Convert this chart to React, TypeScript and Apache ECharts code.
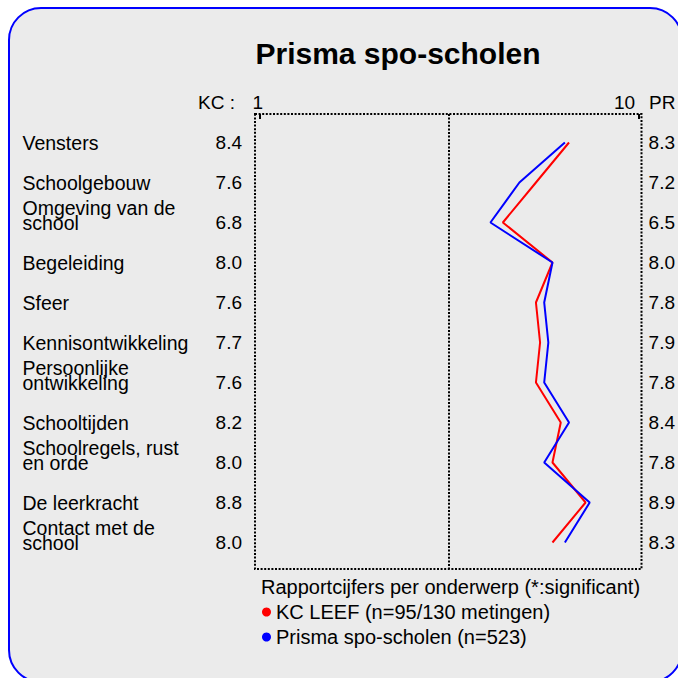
import React, { useEffect, useRef } from "react";
import * as echarts from "echarts";

const categories = [
  "Vensters",
  "Schoolgebouw",
  "Omgeving van de\nschool",
  "Begeleiding",
  "Sfeer",
  "Kennisontwikkeling",
  "Persoonlijke\nontwikkeling",
  "Schooltijden",
  "Schoolregels, rust\nen orde",
  "De leerkracht",
  "Contact met de\nschool",
];
const kcValues = [8.4, 7.6, 6.8, 8.0, 7.6, 7.7, 7.6, 8.2, 8.0, 8.8, 8.0];
const prValues = [8.3, 7.2, 6.5, 8.0, 7.8, 7.9, 7.8, 8.4, 7.8, 8.9, 8.3];
const scaleMin = 1;
const scaleMax = 10;
const titleText = "Prisma spo-scholen";
const kcName = "KC LEEF (n=95/130 metingen)";
const prName = "Prisma spo-scholen (n=523)";
const legendTitle = "Rapportcijfers per onderwerp (*:significant)";

const FONT = "'Liberation Sans', Arial, sans-serif";

export default function App() {
  const ref = useRef<HTMLDivElement>(null);
  useEffect(() => {
    if (!ref.current) return;
    const chart = echarts.init(ref.current, null, { renderer: "svg" });
    const dotted = { stroke: "#000", lineWidth: 2, lineDash: [2, 1.6], fill: null };
    const yBase = {
      type: "category",
      data: categories,
      inverse: true,
      boundaryGap: false,
      axisLine: { show: false },
      axisTick: { show: false },
      splitLine: { show: false },
    };
    chart.setOption({
      animation: false,
      textStyle: { fontFamily: FONT },
      title: {
        text: titleText,
        left: 393,
        top: 33,
        textAlign: "center",
        textStyle: { fontFamily: FONT, fontSize: 30, fontWeight: "bold", color: "#000", lineHeight: 30 },
      },
      graphic: [
        {
          type: "rect",
          z: -10,
          silent: true,
          shape: { x: 9, y: 8, width: 673, height: 674, r: 32 },
          style: { fill: "#ebebeb", stroke: "#0000ff", lineWidth: 2 },
        },
        { type: "rect", z: 1, silent: true, shape: { x: 255, y: 114, width: 386.5, height: 455 }, style: dotted },
        { type: "line", z: 1, silent: true, shape: { x1: 449, y1: 114, x2: 449, y2: 569 }, style: dotted },
        { type: "line", z: 1, silent: true, shape: { x1: 260, y1: 114, x2: 260, y2: 119 }, style: { stroke: "#000", lineWidth: 2 } },
        { type: "line", z: 1, silent: true, shape: { x1: 639, y1: 114, x2: 639, y2: 119 }, style: { stroke: "#000", lineWidth: 2 } },
        {
          type: "text",
          x: 235,
          y: 102,
          style: { text: "KC :", font: `19px ${FONT}`, fill: "#000", textAlign: "right", textVerticalAlign: "middle" },
        },
        {
          type: "text",
          x: 649,
          y: 102,
          style: { text: "PR", font: `19px ${FONT}`, fill: "#000", textAlign: "left", textVerticalAlign: "middle" },
        },
        {
          type: "text",
          x: 261,
          y: 587,
          style: { text: legendTitle, font: `20px ${FONT}`, fill: "#000", textAlign: "left", textVerticalAlign: "middle" },
        },
      ],
      legend: {
        orient: "vertical",
        left: 257,
        top: 597,
        itemWidth: 9,
        itemHeight: 9,
        itemGap: 5,
        icon: "circle",
        textStyle: { fontFamily: FONT, fontSize: 20, color: "#000", lineHeight: 20 },
        data: [
          { name: kcName, itemStyle: { color: "#ff0000" } },
          { name: prName, itemStyle: { color: "#0000ff" } },
        ],
      },
      grid: { left: 263, right: 42.4, top: 142.5, bottom: 135.5 },
      xAxis: {
        type: "value",
        position: "top",
        min: scaleMin,
        max: scaleMax,
        interval: scaleMax - scaleMin,
        axisLine: { show: false },
        axisTick: { show: false },
        splitLine: { show: false },
        axisLabel: {
          align: "right",
          margin: 31,
          fontSize: 19,
          lineHeight: 19,
          color: "#000",
          fontFamily: FONT,
        },
      },
      yAxis: [
        {
          ...yBase,
          position: "left",
          axisLabel: {
            align: "left",
            margin: 240.5,
            fontSize: 19.5,
            lineHeight: 15,
            color: "#000",
            fontFamily: FONT,
            formatter: (v: string) => (v.indexOf("\n") >= 0 ? v + "\n " : v),
          },
        },
        {
          ...yBase,
          position: "left",
          axisLabel: {
            align: "right",
            margin: 21,
            fontSize: 19,
            color: "#000",
            fontFamily: FONT,
            formatter: (_v: string, i: number) => kcValues[i].toFixed(1),
          },
        },
        {
          ...yBase,
          position: "right",
          axisLabel: {
            align: "left",
            margin: 13.4,
            fontSize: 19,
            color: "#000",
            fontFamily: FONT,
            formatter: (_v: string, i: number) => prValues[i].toFixed(1),
          },
        },
      ],
      series: [
        {
          name: kcName,
          type: "line",
          yAxisIndex: 0,
          symbol: "none",
          color: "#ff0000",
          lineStyle: { color: "#ff0000", width: 2 },
          data: kcValues.map((v, i) => [v, i]),
          z: 3,
        },
        {
          name: prName,
          type: "line",
          yAxisIndex: 0,
          symbol: "none",
          color: "#0000ff",
          lineStyle: { color: "#0000ff", width: 2 },
          data: prValues.map((v, i) => [v, i]),
          z: 4,
        },
      ],
    });
    return () => chart.dispose();
  }, []);
  return (
    <div
      ref={ref}
      style={{ position: "absolute", left: 0, top: 0, width: 678, height: 678 }}
    />
  );
}
